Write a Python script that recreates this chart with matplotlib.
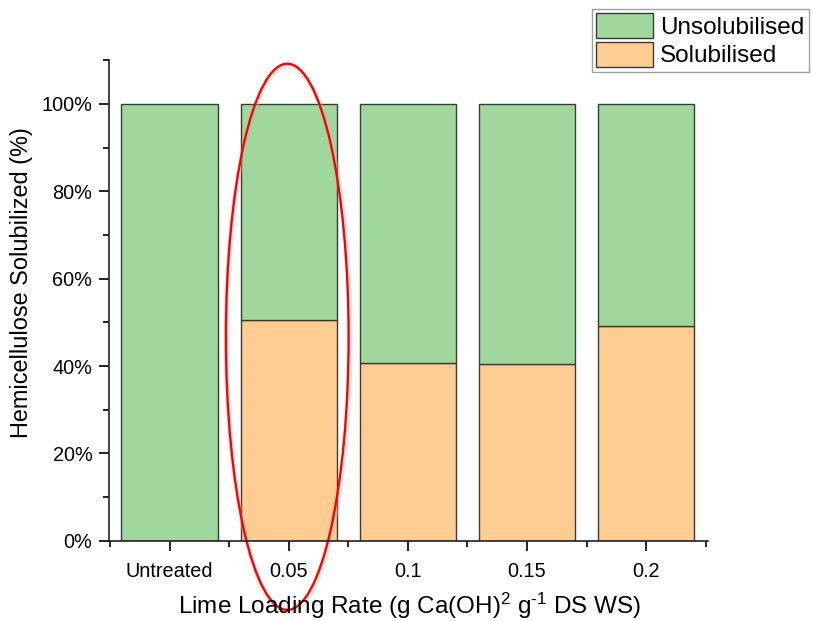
import matplotlib
matplotlib.use("Agg")
import matplotlib.pyplot as plt
from matplotlib.patches import Ellipse
from matplotlib.ticker import MultipleLocator, FuncFormatter
import numpy as np

plt.rcParams['font.family'] = ['Liberation Sans', 'DejaVu Sans']
plt.rcParams['mathtext.fontset'] = 'custom'
plt.rcParams['mathtext.rm'] = 'Liberation Sans'
plt.rcParams['mathtext.it'] = 'Liberation Sans'

categories = ["Untreated", "0.05", "0.1", "0.15", "0.2"]
solubilised = [0.0, 50.5, 40.6, 40.4, 49.1]
unsolubilised = [100 - s for s in solubilised]

green = "#9fd79c"
orange = "#ffcd92"
edge = "#3a3a3a"

fig = plt.figure(figsize=(8.13, 6.21), dpi=100)
ax = fig.add_axes([0.134, 0.129, 0.737, 0.774])

x = np.arange(len(categories))
w = 0.81
b1 = ax.bar(x, solubilised, w, color=orange, edgecolor=edge, linewidth=1.0, label="Solubilised")
b2 = ax.bar(x, unsolubilised, w, bottom=solubilised, color=green, edgecolor=edge, linewidth=1.0, label="Unsolubilised")

ax.set_xlim(-0.51, 4.52)
ax.set_ylim(0, 110)
ax.set_xticks(x)
ax.set_xticklabels(categories)
ax.xaxis.set_minor_locator(MultipleLocator(1, offset=0.5))
ax.yaxis.set_major_locator(MultipleLocator(20))
ax.yaxis.set_minor_locator(MultipleLocator(10))
ax.yaxis.set_major_formatter(FuncFormatter(lambda v, p: f"{int(round(v))}%"))
ax.tick_params(axis='both', which='major', direction='out', length=7, width=1.2, labelsize=14.3, pad=5)
ax.tick_params(axis='both', which='minor', direction='out', length=4, width=1.2)
ax.tick_params(axis='x', which='major', pad=8)
for s in ['top', 'right']:
    ax.spines[s].set_visible(False)
for s in ['left', 'bottom']:
    ax.spines[s].set_linewidth(1.2)
    ax.spines[s].set_color('#222222')

ax.set_ylabel("Hemicellulose Solubilized (%)", fontsize=16.9)
ax.yaxis.set_label_coords(-0.126, 0.538)
ax.set_xlabel(r"Lime Loading Rate (g Ca(OH)$^{2}$ g$^{\text{-1}}$ DS WS)", fontsize=17.5)
ax.xaxis.set_label_coords(0.502, -0.103)

leg = fig.legend(handles=[b2, b1], labels=["Unsolubilised", "Solubilised"],
                 loc='upper right', bbox_to_anchor=(0.998, 0.99), fontsize=17.5,
                 frameon=True, fancybox=False, edgecolor='#888888',
                 handlelength=2.35, handleheight=1.2, handletextpad=0.3,
                 labelspacing=0.12, borderpad=0.18, borderaxespad=0.1)
leg.get_frame().set_linewidth(1.0)

# soft shadow and red highlight ellipse around the 0.05 bar
shadow = Ellipse((0.995, 46.2), width=1.04, height=125, fill=False, edgecolor='#bbbbbb',
                 linewidth=3.5, alpha=0.35, clip_on=False, transform=ax.transData)
ax.add_patch(shadow)
ell = Ellipse((0.987, 46.7), width=1.03, height=125, fill=False, edgecolor='red',
              linewidth=1.7, clip_on=False, transform=ax.transData)
ax.add_patch(ell)

fig.savefig("out.png", dpi=100)
